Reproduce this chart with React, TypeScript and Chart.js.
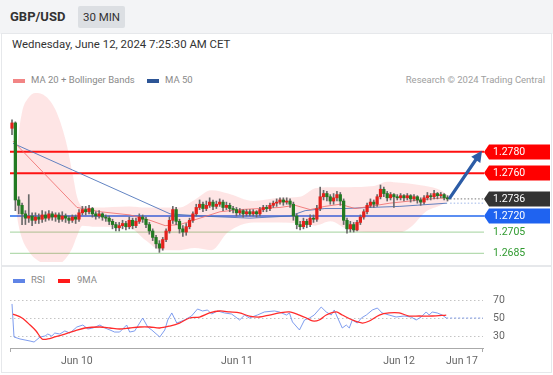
import React, { useEffect, useRef } from "react";
import { Chart, registerables } from "chart.js";
Chart.register(...registerables);

// ---------- price data (30-minute bars, index 0 = first bar) ----------
const FIRST_OPEN = 1.2802;
const closes = [
  1.2807, 1.2735, 1.2730, 1.2722, 1.2718, 1.2720, 1.2716, 1.2719, 1.2717, 1.2721,
  1.2718, 1.2722, 1.2719, 1.2721, 1.2717, 1.2720, 1.2718, 1.2716, 1.2719, 1.2717,
  1.2723, 1.2726, 1.2724, 1.2727, 1.2722, 1.2720, 1.2722, 1.2719, 1.2718, 1.2715,
  1.2712, 1.2709, 1.2711, 1.2713, 1.2710, 1.2716, 1.2711, 1.2715, 1.2719, 1.2717,
  1.2712, 1.2706, 1.2700, 1.2694, 1.2690, 1.2698, 1.2706, 1.2716, 1.2726, 1.2715,
  1.2708, 1.2705, 1.2710, 1.2716, 1.2722, 1.2728, 1.2731, 1.2727, 1.2730, 1.2733,
  1.2729, 1.2731, 1.2733, 1.2728, 1.2730, 1.2727, 1.2726, 1.2723, 1.2725, 1.2722,
  1.2724, 1.2722, 1.2724, 1.2722, 1.2726, 1.2728, 1.2727, 1.2730, 1.2732, 1.2733,
  1.2735, 1.2733, 1.2734, 1.2731, 1.2720, 1.2712, 1.2710, 1.2715, 1.2712, 1.2718,
  1.2717, 1.2727, 1.2738, 1.2741, 1.2738, 1.2734, 1.2737, 1.2740, 1.2734, 1.2716,
  1.2708, 1.2712, 1.2707, 1.2714, 1.2719, 1.2724, 1.2730, 1.2733, 1.2731, 1.2738,
  1.2745, 1.2741, 1.2737, 1.2740, 1.2738, 1.2737, 1.2739, 1.2737, 1.2739, 1.2736,
  1.2738, 1.2735, 1.2733, 1.2737, 1.2739, 1.2738, 1.2741, 1.2739, 1.2740, 1.2737,
  1.2736,
];
const highs = [
  1.2810, 1.2808, 1.2738, 1.2732, 1.2725, 1.2740, 1.2723, 1.2723, 1.2722, 1.2725,
  1.2724, 1.2725, 1.2724, 1.2723, 1.2723, 1.2724, 1.2722, 1.2720, 1.2721, 1.2721,
  1.2726, 1.2729, 1.2729, 1.2730, 1.2728, 1.2724, 1.2725, 1.2723, 1.2721, 1.2720,
  1.2717, 1.2714, 1.2714, 1.2716, 1.2715, 1.2719, 1.2718, 1.2718, 1.2722, 1.2721,
  1.2719, 1.2714, 1.2708, 1.2702, 1.2697, 1.2700, 1.2708, 1.2719, 1.2729, 1.2728,
  1.2717, 1.2711, 1.2713, 1.2718, 1.2724, 1.2731, 1.2735, 1.2733, 1.2734, 1.2737,
  1.2735, 1.2734, 1.2736, 1.2735, 1.2733, 1.2732, 1.2729, 1.2728, 1.2727, 1.2726,
  1.2726, 1.2726, 1.2726, 1.2725, 1.2728, 1.2730, 1.2730, 1.2732, 1.2734, 1.2736,
  1.2737, 1.2737, 1.2737, 1.2736, 1.2733, 1.2722, 1.2715, 1.2718, 1.2717, 1.2721,
  1.2721, 1.2730, 1.2747, 1.2744, 1.2743, 1.2740, 1.2741, 1.2743, 1.2742, 1.2736,
  1.2718, 1.2715, 1.2714, 1.2716, 1.2721, 1.2726, 1.2732, 1.2736, 1.2735, 1.2740,
  1.2749, 1.2747, 1.2743, 1.2742, 1.2741, 1.2740, 1.2741, 1.2740, 1.2741, 1.2740,
  1.2740, 1.2739, 1.2737, 1.2739, 1.2742, 1.2741, 1.2744, 1.2742, 1.2742, 1.2741,
  1.2739,
];
const lows = [
  1.2796, 1.2725, 1.2722, 1.2712, 1.2712, 1.2714, 1.2711, 1.2713, 1.2713, 1.2714,
  1.2715, 1.2716, 1.2716, 1.2715, 1.2714, 1.2715, 1.2714, 1.2713, 1.2714, 1.2713,
  1.2715, 1.2721, 1.2721, 1.2722, 1.2719, 1.2717, 1.2718, 1.2716, 1.2715, 1.2712,
  1.2708, 1.2706, 1.2706, 1.2708, 1.2707, 1.2708, 1.2708, 1.2709, 1.2713, 1.2714,
  1.2709, 1.2703, 1.2697, 1.2690, 1.2686, 1.2688, 1.2696, 1.2704, 1.2713, 1.2712,
  1.2704, 1.2701, 1.2702, 1.2708, 1.2714, 1.2720, 1.2726, 1.2724, 1.2725, 1.2728,
  1.2726, 1.2727, 1.2729, 1.2725, 1.2726, 1.2724, 1.2723, 1.2720, 1.2721, 1.2719,
  1.2720, 1.2720, 1.2720, 1.2719, 1.2720, 1.2724, 1.2724, 1.2725, 1.2728, 1.2729,
  1.2731, 1.2730, 1.2731, 1.2728, 1.2716, 1.2708, 1.2707, 1.2708, 1.2709, 1.2710,
  1.2714, 1.2715, 1.2725, 1.2735, 1.2734, 1.2731, 1.2731, 1.2734, 1.2730, 1.2712,
  1.2704, 1.2705, 1.2705, 1.2706, 1.2712, 1.2717, 1.2722, 1.2728, 1.2728, 1.2729,
  1.2736, 1.2738, 1.2734, 1.2735, 1.2728, 1.2735, 1.2735, 1.2734, 1.2735, 1.2733,
  1.2734, 1.2732, 1.2730, 1.2731, 1.2735, 1.2735, 1.2736, 1.2736, 1.2737, 1.2735,
  1.2734,
];

// ---------- moving averages & Bollinger bands ----------
const ma20Idx = [0.3, 19.4, 26.3, 35.2, 41.2, 45.7, 50.1, 56.1, 62.1, 68.1, 74.0, 80.0, 84.5, 89.0, 93.4, 97.9, 102.4, 106.9, 112.8, 118.8, 124.8, 129.9];
const ma20Val = [1.2790, 1.2728, 1.2724, 1.2721, 1.2716, 1.2711, 1.2712, 1.2718, 1.2724, 1.2726, 1.2727, 1.2728, 1.2730, 1.2726, 1.2729, 1.2731, 1.2727, 1.2729, 1.2732, 1.2734, 1.2736, 1.2737];
const ma50Idx = [0.3, 47.2, 56.1, 71.0, 83.0, 87.5, 93.4, 99.4, 106.9, 115.8, 129.9];
const ma50Val = [1.2788, 1.2722, 1.2720, 1.2718, 1.2720, 1.2725, 1.2727, 1.2727, 1.2728, 1.2729, 1.2732];
const bandIdx = [0.6, 1.8, 3.0, 4.8, 7.0, 10.0, 13.0, 16.0, 18.0, 19.5, 21.0, 25.0, 35.0, 40.0, 44.5, 50.0, 54.5, 59.5, 64.5, 72.0, 80.0, 86.0, 90.5, 95.0, 100.5, 108.0, 112.0, 116.0, 119.5, 123.5, 128.0, 130.7];
const bandUpper = [1.2744, 1.2791, 1.2817, 1.2830, 1.2835, 1.2832, 1.2819, 1.2791, 1.2761, 1.2737, 1.2729, 1.2728, 1.2729, 1.2728, 1.2728, 1.2728, 1.2735, 1.2744, 1.2741, 1.2734, 1.2737, 1.2738, 1.2746, 1.2747, 1.2747, 1.2748, 1.2752, 1.2751, 1.2750, 1.2748, 1.2744, 1.2738];
const bandLower = [1.2740, 1.2714, 1.2699, 1.2688, 1.2680, 1.2675, 1.2674, 1.2680, 1.2690, 1.2702, 1.2711, 1.2710, 1.2709, 1.2697, 1.2688, 1.2688, 1.2690, 1.2688, 1.2705, 1.2714, 1.2714, 1.2713, 1.2711, 1.2715, 1.2707, 1.2705, 1.2705, 1.2705, 1.2711, 1.2724, 1.2730, 1.2735];

// ---------- key levels ----------
const levelValues = [1.2780, 1.2760, 1.2736, 1.2720, 1.2705, 1.2685];
const levelKinds = ["resistance", "resistance", "last", "pivot", "support", "support"];
const forecastFrom = [130.7, 1.2737];
const forecastTo = [140.3, 1.2781];

// ---------- RSI ----------
const rsiIdx = [0, 0.6, 2.4, 5.4, 6.6, 8.4, 9.9, 10.7, 11.9, 12.8, 14.3, 15.8, 17.3, 19.4, 21.2, 22.7, 24.2, 26.3, 27.8, 29.3, 30.7, 32.2, 34.3, 35.2, 36.7, 39.1, 40.6, 41.8, 44.2, 45.7, 46.6, 47.8, 49.3, 51.6, 53.7, 55.5, 57.0, 58.5, 59.7, 61.5, 63.6, 65.7, 68.1, 69.6, 71.0, 73.4, 75.5, 78.5, 80.0, 82.1, 83.0, 83.9, 86.0, 87.5, 89.0, 90.4, 92.5, 94.0, 95.5, 96.4, 97.3, 98.8, 100.0, 100.9, 101.8, 103.3, 104.5, 106.0, 107.8, 109.3, 110.7, 112.8, 114.9, 117.3, 119.4, 120.9, 122.4, 123.9, 124.8, 125.7, 127.2, 128.7, 129.9];
const rsiVal = [65.6, 28.9, 26.7, 24.4, 23.3, 28.9, 30.0, 32.2, 30.0, 33.3, 32.2, 35.6, 33.3, 40.0, 42.2, 37.8, 38.9, 42.2, 38.9, 36.7, 34.4, 34.4, 42.2, 34.4, 35.6, 50.0, 40.0, 36.7, 28.9, 36.7, 47.8, 55.6, 44.4, 47.8, 52.2, 60.0, 57.8, 58.9, 54.4, 57.8, 55.6, 54.4, 47.8, 53.3, 50.0, 53.3, 56.7, 57.8, 56.7, 53.3, 55.6, 45.6, 36.7, 47.8, 50.0, 53.3, 62.2, 56.7, 53.3, 58.9, 51.1, 38.9, 42.2, 38.9, 47.8, 44.4, 50.0, 53.3, 58.9, 61.1, 55.6, 53.3, 51.1, 52.2, 51.1, 47.8, 51.1, 56.7, 53.3, 56.7, 55.6, 53.3, 50.0];
const rsiMaIdx = [0.3, 3.0, 5.4, 7.2, 9.0, 10.7, 12.8, 15.8, 18.8, 21.8, 26.3, 29.3, 32.2, 35.2, 38.2, 41.2, 44.2, 47.2, 50.1, 53.1, 56.1, 59.1, 62.1, 65.1, 68.1, 71.0, 74.0, 77.0, 80.0, 83.0, 86.0, 88.1, 89.9, 91.9, 94.0, 97.0, 98.8, 101.8, 104.8, 106.9, 109.9, 112.8, 115.8, 118.8, 121.8, 125.7, 129.9];
const rsiMaVal = [54.4, 50.0, 42.2, 35.6, 26.7, 26.7, 28.9, 32.2, 35.6, 38.9, 40.0, 38.9, 37.8, 38.9, 40.0, 40.0, 38.9, 41.1, 44.4, 50.0, 51.1, 55.6, 57.8, 56.7, 55.6, 52.2, 51.1, 53.3, 55.6, 56.7, 53.3, 50.0, 46.7, 47.8, 53.3, 56.7, 53.3, 47.8, 44.4, 46.7, 53.3, 55.6, 55.6, 52.2, 52.2, 52.2, 53.3];
const rsiTicks = [30, 50, 70];

// ---------- time axis ----------
const dayTickIdx = [19.4, 67.3, 115.8, 134.6];
const dayTickLabels = ["Jun 10", "Jun 11", "Jun 12", "Jun 17"];
const X_MIN = -0.6;
const X_MAX = 140.9;
const PRICE_MIN = 1.2677;
const PRICE_MAX = 1.2835;
const RSI_MIN = 16.667;
const RSI_MAX = 83.333;

const FONT = "Roboto, Arial, sans-serif";

const pts = (xs: number[], ys: number[]) => xs.map((x, i) => ({ x, y: ys[i] }));

const mainPlugin = {
  id: "levels",
  beforeDatasetsDraw(chart: any) {
    const { ctx, chartArea: a, scales } = chart;
    const y = scales.y;
    ctx.save();
    levelValues.forEach((v, i) => {
      const k = levelKinds[i];
      if (k === "last") return;
      const py = y.getPixelForValue(v);
      ctx.beginPath();
      if (k === "resistance") { ctx.strokeStyle = "#ff1010"; ctx.lineWidth = 2; }
      else if (k === "pivot") { ctx.strokeStyle = "#5b8ef2"; ctx.lineWidth = 2; }
      else { ctx.strokeStyle = "#b5dbb0"; ctx.lineWidth = 1.3; }
      ctx.moveTo(a.left, py);
      ctx.lineTo(a.right, py);
      ctx.stroke();
    });
    ctx.restore();
  },
  afterDatasetsDraw(chart: any) {
    const { ctx, chartArea: a, scales } = chart;
    const x = scales.x, y = scales.y;
    ctx.save();
    const lastIdx = closes.length - 1;
    const xs = x.getPixelForValue(lastIdx + 0.8);
    ctx.setLineDash([1.5, 2]);
    ctx.lineWidth = 1;
    ctx.strokeStyle = "#777";
    ctx.beginPath();
    const pl = y.getPixelForValue(closes[lastIdx]);
    ctx.moveTo(xs, pl); ctx.lineTo(a.right, pl); ctx.stroke();
    ctx.strokeStyle = "#9db5e8";
    ctx.beginPath();
    const pm = y.getPixelForValue(ma50Val[ma50Val.length - 1]);
    ctx.moveTo(xs, pm); ctx.lineTo(a.right, pm); ctx.stroke();
    ctx.setLineDash([]);

    const x0 = x.getPixelForValue(forecastFrom[0]);
    const y0 = y.getPixelForValue(forecastFrom[1]);
    const x1 = x.getPixelForValue(forecastTo[0]);
    const y1 = y.getPixelForValue(forecastTo[1]);
    const ang = Math.atan2(y1 - y0, x1 - x0);
    const head = 11, hw = 5.5;
    ctx.strokeStyle = "#2c5ca6";
    ctx.fillStyle = "#2c5ca6";
    ctx.lineWidth = 3.2;
    ctx.lineCap = "round";
    ctx.beginPath();
    ctx.moveTo(x0, y0);
    ctx.lineTo(x1 - head * 0.8 * Math.cos(ang), y1 - head * 0.8 * Math.sin(ang));
    ctx.stroke();
    ctx.beginPath();
    ctx.moveTo(x1, y1);
    ctx.lineTo(x1 - head * Math.cos(ang) + hw * Math.sin(ang), y1 - head * Math.sin(ang) - hw * Math.cos(ang));
    ctx.lineTo(x1 - head * Math.cos(ang) - hw * Math.sin(ang), y1 - head * Math.sin(ang) + hw * Math.cos(ang));
    ctx.closePath();
    ctx.fill();

    const tx = a.right;
    const right = chart.width - 3;
    ctx.font = "10.5px " + FONT;
    ctx.textBaseline = "middle";
    ctx.textAlign = "left";
    levelValues.forEach((v, i) => {
      const k = levelKinds[i];
      const py = Math.round(y.getPixelForValue(v));
      const label = v.toFixed(4);
      if (k === "support") {
        ctx.fillStyle = "#2f9a2f";
        ctx.fillText(label, tx + 9, py + 0.5);
        return;
      }
      ctx.fillStyle = k === "resistance" ? "#ff0000" : k === "last" ? "#333333" : "#1f63f0";
      ctx.beginPath();
      ctx.moveTo(tx, py);
      ctx.lineTo(tx + 5, py - 7.5);
      ctx.lineTo(right, py - 7.5);
      ctx.lineTo(right, py + 7.5);
      ctx.lineTo(tx + 5, py + 7.5);
      ctx.closePath();
      ctx.fill();
      ctx.fillStyle = "#ffffff";
      ctx.fillText(label, tx + 9, py + 0.5);
    });
    ctx.restore();
  },
};

const rsiPlugin = {
  id: "rsiGrid",
  beforeDatasetsDraw(chart: any) {
    const { ctx, chartArea: a, scales } = chart;
    ctx.save();
    ctx.strokeStyle = "#c4c4c4";
    ctx.lineWidth = 1;
    ctx.setLineDash([1.5, 2.5]);
    rsiTicks.forEach((t) => {
      const py = Math.round(scales.y.getPixelForValue(t)) + 0.5;
      ctx.beginPath();
      ctx.moveTo(a.left, py);
      ctx.lineTo(a.right, py);
      ctx.stroke();
    });
    ctx.setLineDash([]);
    ctx.strokeStyle = "#aaaaaa";
    ctx.beginPath();
    [a.left + 0.5, a.right - 0.5].forEach((px) => {
      ctx.moveTo(px, a.bottom);
      ctx.lineTo(px, a.bottom + 4);
    });
    ctx.stroke();
    ctx.fillStyle = "#666";
    ctx.font = "10.5px " + FONT;
    ctx.textAlign = "left";
    ctx.textBaseline = "middle";
    rsiTicks.forEach((t) => {
      ctx.fillText(String(t), a.right + 10, scales.y.getPixelForValue(t) + 0.5);
    });
    ctx.restore();
  },
};

export default function App() {
  const mainRef = useRef<HTMLCanvasElement>(null);
  const rsiRef = useRef<HTMLCanvasElement>(null);

  useEffect(() => {
    const opens = closes.map((_, i) => (i === 0 ? FIRST_OPEN : closes[i - 1]));
    const up = closes.map((c, i) => c >= opens[i]);
    const bodies = closes.map((c, i) => ({ x: i, y: [opens[i], c] }));
    const wicks = closes.map((_, i) => ({ x: i, y: [lows[i], highs[i]] }));

    const main = new Chart(mainRef.current!, {
      type: "bar",
      data: {
        datasets: [
          {
            type: "bar",
            data: bodies as any,
            backgroundColor: up.map((u) => (u ? "#e3211c" : "#227a22")),
            barThickness: 2.6,
            minBarLength: 1,
            grouped: false,
            borderWidth: 0,
          } as any,
          {
            type: "bar",
            data: wicks as any,
            backgroundColor: "#6a6a6a",
            barThickness: 1,
            grouped: false,
            borderWidth: 0,
          } as any,
          {
            type: "line",
            data: pts(ma20Idx, ma20Val),
            borderColor: "rgba(240,110,110,0.85)",
            borderWidth: 1,
            pointRadius: 0,
            tension: 0,
          } as any,
          {
            type: "line",
            data: pts(ma50Idx, ma50Val),
            borderColor: "rgba(70,110,185,0.85)",
            borderWidth: 1,
            pointRadius: 0,
            tension: 0,
          } as any,
          {
            type: "line",
            data: pts(bandIdx, bandUpper),
            borderColor: "rgba(255,0,0,0)",
            borderWidth: 0,
            pointRadius: 0,
            cubicInterpolationMode: "monotone",
            fill: false,
            clip: false,
          } as any,
          {
            type: "line",
            data: pts(bandIdx, bandLower),
            borderColor: "rgba(255,0,0,0)",
            borderWidth: 0,
            pointRadius: 0,
            cubicInterpolationMode: "monotone",
            fill: "-1",
            backgroundColor: "rgba(250,40,40,0.12)",
            clip: false,
          } as any,
        ],
      },
      options: {
        animation: false,
        responsive: false,
        events: [],
        layout: { padding: { left: 10, right: 69, top: 5, bottom: 4 } },
        plugins: { legend: { display: false }, tooltip: { enabled: false } },
        scales: {
          x: { type: "linear", min: X_MIN, max: X_MAX, display: false, offset: false },
          y: { type: "linear", min: PRICE_MIN, max: PRICE_MAX, display: false },
        },
      } as any,
      plugins: [mainPlugin],
    });

    const rsi = new Chart(rsiRef.current!, {
      type: "line",
      data: {
        datasets: [
          {
            data: pts(rsiMaIdx, rsiMaVal),
            borderColor: "#ff2b2b",
            borderWidth: 1.3,
            pointRadius: 0,
            tension: 0.3,
          },
          {
            data: pts(rsiIdx, rsiVal),
            borderColor: "rgba(105,140,235,0.85)",
            borderWidth: 1,
            pointRadius: 0,
            tension: 0,
          },
          {
            data: [
              { x: rsiIdx[rsiIdx.length - 1], y: rsiVal[rsiVal.length - 1] },
              { x: X_MAX, y: rsiVal[rsiVal.length - 1] },
            ],
            borderColor: "rgba(105,140,235,0.8)",
            borderWidth: 1,
            borderDash: [2, 2],
            pointRadius: 0,
          },
        ],
      },
      options: {
        animation: false,
        responsive: false,
        events: [],
        layout: { padding: { left: 10, right: 70, top: 2, bottom: 5 } },
        plugins: { legend: { display: false }, tooltip: { enabled: false } },
        scales: {
          x: {
            type: "linear",
            min: X_MIN,
            max: X_MAX,
            grid: { display: false, drawTicks: false },
            border: { display: true, color: "#aaaaaa", width: 1 },
            afterBuildTicks: (s: any) => {
              s.ticks = dayTickIdx.map((v) => ({ value: v }));
            },
            afterFit: (s: any) => {
              s.height = 22;
            },
            ticks: {
              autoSkip: false,
              maxRotation: 0,
              padding: 7,
              color: "#666",
              font: { family: FONT, size: 10.5 },
              callback: (_v: any, i: number) => dayTickLabels[i],
            },
          },
          y: {
            type: "linear",
            min: RSI_MIN,
            max: RSI_MAX,
            display: false,
          },
        },
      } as any,
      plugins: [rsiPlugin],
    });

    return () => {
      main.destroy();
      rsi.destroy();
    };
  }, []);

  const abs = (s: React.CSSProperties): React.CSSProperties => ({ position: "absolute", ...s });
  const legendText: React.CSSProperties = { fontSize: 9.5, color: "#8a8a8a", lineHeight: "12px" };

  return (
    <div
      style={{
        position: "fixed",
        left: 0,
        top: 0,
        width: 553,
        height: 375,
        overflow: "hidden",
        background: "#fff",
        fontFamily: FONT,
      }}
    >
      <div style={abs({ left: 0, top: 0, width: 553, height: 34, background: "#f3f4f6" })} />
      <div style={abs({ left: 10, top: 9, fontSize: 13, fontWeight: 700, color: "#333", lineHeight: "16px" })}>GBP/USD</div>
      <div
        style={abs({
          left: 78,
          top: 6,
          width: 47,
          height: 22,
          background: "#dcdfe3",
          color: "#333",
          fontSize: 11.5,
          lineHeight: "22px",
          textAlign: "center",
          borderRadius: 2,
        })}
      >
        30 MIN
      </div>
      <div style={abs({ left: 1, top: 33, width: 551, height: 233, boxSizing: "border-box", border: "1px solid #e6e8eb" })} />
      <div style={abs({ left: 1, top: 266, width: 551, height: 107, boxSizing: "border-box", border: "1px solid #e6e8eb" })} />
      <div style={abs({ left: 12, top: 37, fontSize: 11.4, color: "#333", lineHeight: "14px" })}>
        Wednesday, June 12, 2024 7:25:30 AM CET
      </div>

      <div style={abs({ left: 13, top: 79, width: 12, height: 4, background: "#f28585" })} />
      <div style={abs({ left: 31, top: 74, ...legendText })}>MA 20 + Bollinger Bands</div>
      <div style={abs({ left: 147, top: 79, width: 12, height: 4, background: "#2d5596" })} />
      <div style={abs({ left: 165, top: 74, ...legendText })}>MA 50</div>
      <div style={abs({ right: 8, top: 74, fontSize: 9.5, color: "#a0a0a0", lineHeight: "12px" })}>
        Research © 2024 Trading Central
      </div>

      <div style={abs({ left: 13, top: 279, width: 12, height: 4, background: "#5f84e6" })} />
      <div style={abs({ left: 31, top: 274, ...legendText })}>RSI</div>
      <div style={abs({ left: 58, top: 279, width: 12, height: 4, background: "#ff1a1a" })} />
      <div style={abs({ left: 77, top: 274, ...legendText })}>9MA</div>

      <canvas
        ref={mainRef}
        width={553}
        height={178}
        style={abs({ left: 0, top: 88, width: 553, height: 178, display: "block" })}
      />
      <canvas
        ref={rsiRef}
        width={553}
        height={89}
        style={abs({ left: 0, top: 286, width: 553, height: 89, display: "block" })}
      />
    </div>
  );
}
